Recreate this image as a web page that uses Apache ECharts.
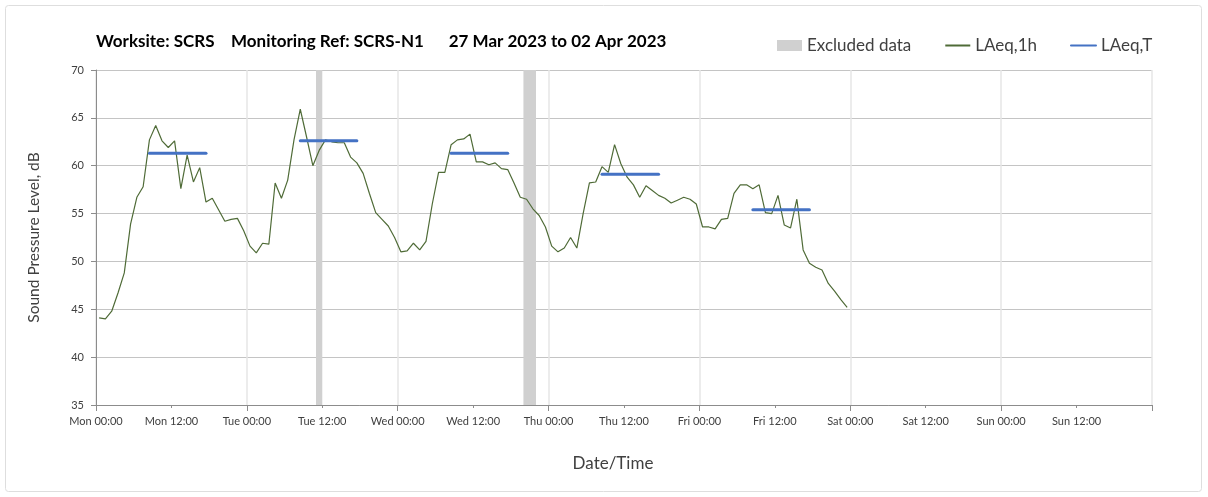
<!DOCTYPE html>
<html>
<head>
<meta charset="utf-8">
<script src="https://cdn.jsdelivr.net/npm/echarts@6/dist/echarts.min.js"></script>
<style>
  html, body { margin: 0; padding: 0; background: #ffffff; }
  #chart { width: 1208px; height: 497px; }
</style>
</head>
<body>
<div id="chart"></div>
<script>
// Day names for the x-axis tick labels (axis runs in hours from Monday 00:00)
const dayNames = ['Mon', 'Tue', 'Wed', 'Thu', 'Fri', 'Sat', 'Sun'];

// Hourly LAeq,1h values (dB), one per hour from Mon 00:00 to Fri 24:00, plotted at the hour midpoint
const laeq1h = [
  44.1, 44.0, 44.8, 46.7, 48.8, 53.9, 56.7, 57.8, 62.7, 64.2, 62.6, 61.9,
  62.6, 57.6, 61.1, 58.3, 59.8, 56.2, 56.6, 55.4, 54.2, 54.4, 54.5, 53.2,
  51.6, 50.9, 51.9, 51.8, 58.2, 56.6, 58.5, 62.7, 65.9, 63.0, 60.0, 61.6,
  62.7, 62.5, 62.4, 62.4, 60.9, 60.3, 59.2, 57.1, 55.1, 54.4, 53.7, 52.5,
  51.0, 51.1, 51.9, 51.2, 52.1, 56.0, 59.3, 59.3, 62.2, 62.7, 62.8, 63.3,
  60.4, 60.4, 60.1, 60.3, 59.7, 59.6, 58.2, 56.7, 56.5, 55.5, 54.8, 53.6,
  51.6, 51.0, 51.4, 52.5, 51.4, 55.0, 58.2, 58.3, 59.9, 59.3, 62.2, 60.2,
  58.8, 58.0, 56.7, 57.9, 57.4, 56.9, 56.6, 56.1, 56.4, 56.7, 56.5, 56.0,
  53.6, 53.6, 53.4, 54.4, 54.5, 57.1, 58.0, 58.0, 57.6, 58.0, 55.1, 55.0,
  56.9, 53.8, 53.5, 56.5, 51.2, 49.8, 49.4, 49.1, 47.7, 46.9, 46.0, 45.2
];

// Daytime LAeq,T (dB) per day, Mon..Fri, over the 08:00-18:00 period
const laeqT = [61.3, 62.6, 61.3, 59.1, 55.4];
const laeqTPeriod = [8, 18];

// Excluded data periods, in hours from Mon 00:00
const excludedPeriods = [[35, 36], [68, 70]];

// Y-axis range and step (dB)
const yMin = 35, yMax = 70, yStep = 5;

const lineData = laeq1h.map((v, i) => [i + 0.5, v]);

const tSeries = laeqT.map((v, d) => ({
  name: 'LAeq,T',
  type: 'line',
  data: [[d * 24 + laeqTPeriod[0] + 0.5, v], [d * 24 + laeqTPeriod[1] - 0.5, v]],
  symbol: 'none',
  lineStyle: { color: '#4472C4', width: 3, cap: 'round' },
  itemStyle: { color: '#4472C4' },
  z: 4,
  silent: true
}));

const fontFam = 'Lato, "Open Sans", sans-serif';

function hourLabel(v) {
  const d = Math.floor(v / 24);
  const h = v % 24;
  return dayNames[d] + ' ' + (h === 0 ? '00:00' : '12:00');
}

const chart = echarts.init(document.getElementById('chart'), null, { renderer: 'canvas' });

chart.setOption({
  animation: false,
  backgroundColor: '#ffffff',
  textStyle: { fontFamily: fontFam },
  graphic: [{
    type: 'rect',
    shape: { x: 5.5, y: 5.5, width: 1196, height: 486, r: 3 },
    style: { fill: 'none', stroke: '#dedede', lineWidth: 1 },
    silent: true
  }],
  title: {
    text: 'Worksite: SCRS    Monitoring Ref: SCRS-N1      27 Mar 2023 to 02 Apr 2023',
    left: 91,
    top: 28,
    textStyle: { fontFamily: fontFam, fontSize: 17, fontWeight: 'bold', color: '#000000' }
  },
  legend: {
    top: 32,
    left: 772,
    itemGap: 33,
    itemWidth: 25,
    itemHeight: 11,
    textStyle: { fontFamily: fontFam, fontSize: 17, color: '#404040' },
    data: [
      { name: 'Excluded data', icon: 'rect', itemStyle: { color: '#d0d0d0' } },
      { name: 'LAeq,1h', itemStyle: { opacity: 0 } },
      { name: 'LAeq,T', itemStyle: { opacity: 0 } }
    ]
  },
  grid: { left: 96, right: 56, top: 70, bottom: 92, containLabel: false },
  xAxis: [{
    type: 'value',
    min: 0,
    max: 168,
    interval: 12,
    name: 'Date/Time',
    nameLocation: 'middle',
    nameGap: 50,
    nameTextStyle: { fontFamily: fontFam, fontSize: 17, color: '#404040', padding: [0, 22, 0, 0] },
    axisLine: { show: true, lineStyle: { color: '#8c8c8c', width: 1 } },
    axisTick: { show: true, length: 3, lineStyle: { color: '#8c8c8c' } },
    axisLabel: {
      formatter: hourLabel,
      showMaxLabel: false,
      margin: 11,
      fontFamily: fontFam,
      fontSize: 11,
      color: '#404040'
    },
    splitLine: { show: false }
  }, {
    type: 'value',
    min: 0,
    max: 168,
    interval: 24,
    position: 'bottom',
    axisLine: { show: false },
    axisTick: { show: true, length: 6, lineStyle: { color: '#8c8c8c' } },
    axisLabel: { show: false },
    splitLine: { show: true, lineStyle: { color: '#e6e6e6', width: 1.5 } }
  }],
  yAxis: {
    type: 'value',
    min: yMin,
    max: yMax,
    interval: yStep,
    name: 'Sound Pressure Level, dB',
    nameLocation: 'middle',
    nameGap: 54,
    nameRotate: 90,
    nameTextStyle: { fontFamily: fontFam, fontSize: 15.5, color: '#404040' },
    axisLine: { show: true, lineStyle: { color: '#8c8c8c' } },
    axisTick: { show: true, inside: false, length: 5, lineStyle: { color: '#8c8c8c' } },
    axisLabel: { fontFamily: fontFam, fontSize: 11, color: '#404040', margin: 12 },
    splitLine: { show: true, lineStyle: { color: '#c4c4c4', width: 1 } }
  },
  series: [{
    name: 'Excluded data',
    type: 'line',
    data: [],
    symbol: 'none',
    itemStyle: { color: '#d0d0d0' },
    lineStyle: { color: '#d0d0d0' },
    markArea: {
      silent: true,
      itemStyle: { color: '#d0d0d0' },
      data: excludedPeriods.map(p => [{ xAxis: p[0] }, { xAxis: p[1] }])
    },
    z: 1
  }, {
    name: 'LAeq,1h',
    type: 'line',
    data: lineData,
    symbol: 'none',
    lineStyle: { color: '#4f6b37', width: 1.2 },
    itemStyle: { color: '#4f6b37' },
    z: 3,
    silent: true
  }].concat(tSeries)
});
</script>
</body>
</html>
